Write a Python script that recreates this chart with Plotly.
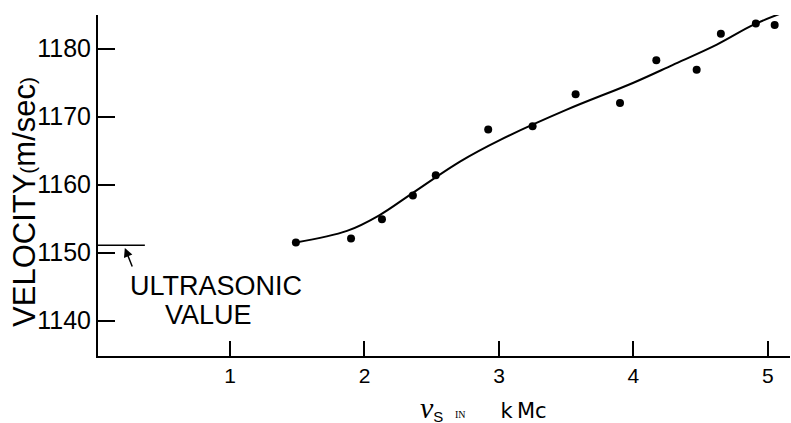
import plotly.graph_objects as go

# measured points (frequency in kMc, velocity in m/sec)
freq = [1.49, 1.90, 2.13, 2.36, 2.53, 2.92, 3.25, 3.57, 3.90, 4.17, 4.47, 4.65, 4.91, 5.05]
velocity = [1151.5, 1152.1, 1154.9, 1158.4, 1161.4, 1168.1, 1168.6, 1173.3, 1172.0,
            1178.3, 1176.9, 1182.2, 1183.7, 1183.5]

# smooth drawn curve
curve_x = [1.49, 1.87, 2.11, 2.36, 2.71, 3.01, 3.50, 4.00, 4.29, 4.62, 4.89, 5.11]
curve_y = [1151.5, 1153.2, 1155.5, 1158.8, 1163.4, 1166.6, 1171.0, 1175.0, 1177.6,
           1180.6, 1183.5, 1185.3]

# ultrasonic reference value
ultra_value = 1151.1
ultra_x = [0.0186, 0.367]

x_ticks = [1, 2, 3, 4, 5]
y_ticks = [1140, 1150, 1160, 1170, 1180]

FONT = "Liberation Sans"

fig = go.Figure()
fig.add_trace(go.Scatter(x=curve_x, y=curve_y, mode="lines",
                         line=dict(color="black", width=2, shape="spline", smoothing=1.0),
                         cliponaxis=False, showlegend=False, hoverinfo="skip"))
fig.add_trace(go.Scatter(x=freq, y=velocity, mode="markers",
                         marker=dict(color="black", size=8),
                         cliponaxis=False, showlegend=False))
fig.add_trace(go.Scatter(x=ultra_x, y=[ultra_value, ultra_value], mode="lines",
                         line=dict(color="black", width=1.5),
                         cliponaxis=False, showlegend=False, hoverinfo="skip"))

fig.update_layout(
    width=791, height=423,
    margin=dict(l=98, r=1, t=15, b=67),
    paper_bgcolor="white", plot_bgcolor="white",
    font=dict(family=FONT, color="black"),
    xaxis=dict(range=[0.0186, 5.164], tickvals=x_ticks, ticktext=[str(v) for v in x_ticks],
               ticks="inside", ticklen=15, tickwidth=1.5, tickcolor="black",
               showline=True, linecolor="black", linewidth=2, showgrid=False, zeroline=False,
               tickfont=dict(size=21, family=FONT), automargin=False),
    yaxis=dict(range=[1134.8, 1184.96], tickvals=y_ticks, ticktext=[str(v) for v in y_ticks],
               ticks="inside", ticklen=17, tickwidth=1.5, tickcolor="black",
               showline=True, linecolor="black", linewidth=2, showgrid=False, zeroline=False,
               tickfont=dict(size=25, family=FONT), automargin=False),
)

x_title = ("<i><span style='font-family:Liberation Serif;font-size:30px'>ν</span></i>"
           "<sub><span style='font-size:15px'>S</span></sub>"
           "  <span style='font-family:Liberation Serif;font-size:10px'>IN</span>"
           "      <span style='font-family:DejaVu Sans'>k\u2009Mc</span>")

annotations = [
    dict(text="VELOCITY<span style='font-size:21px'>(</span>m/sec<span style='font-size:21px'>)</span>",
         xref="paper", yref="paper", x=-0.1070, y=0.4516, textangle=-90,
         showarrow=False, xanchor="center", yanchor="middle",
         font=dict(size=31, family=FONT)),
    dict(text=x_title,
         xref="x", yref="paper", x=2.396, y=-0.1525, xanchor="left", yanchor="middle",
         showarrow=False, font=dict(size=21, family=FONT)),
    dict(text="ULTRASONIC", xref="x", yref="y", x=0.898, y=1145.03, showarrow=False,
         xanchor="center", yanchor="middle", font=dict(size=27, family=FONT)),
    dict(text="VALUE", xref="x", yref="y", x=0.839, y=1140.76, showarrow=False,
         xanchor="center", yanchor="middle", font=dict(size=27, family=FONT)),
    dict(text="", xref="x", yref="y", x=0.218, y=1150.7, ax=8, ay=20,
         showarrow=True, arrowhead=2, arrowsize=1.2, arrowwidth=1.5, arrowcolor="black"),
]
fig.update_layout(annotations=annotations)

fig.write_html("out.html", config={"displayModeBar": False},
               post_script="document.body.style.margin='0';document.body.style.padding='0';")
